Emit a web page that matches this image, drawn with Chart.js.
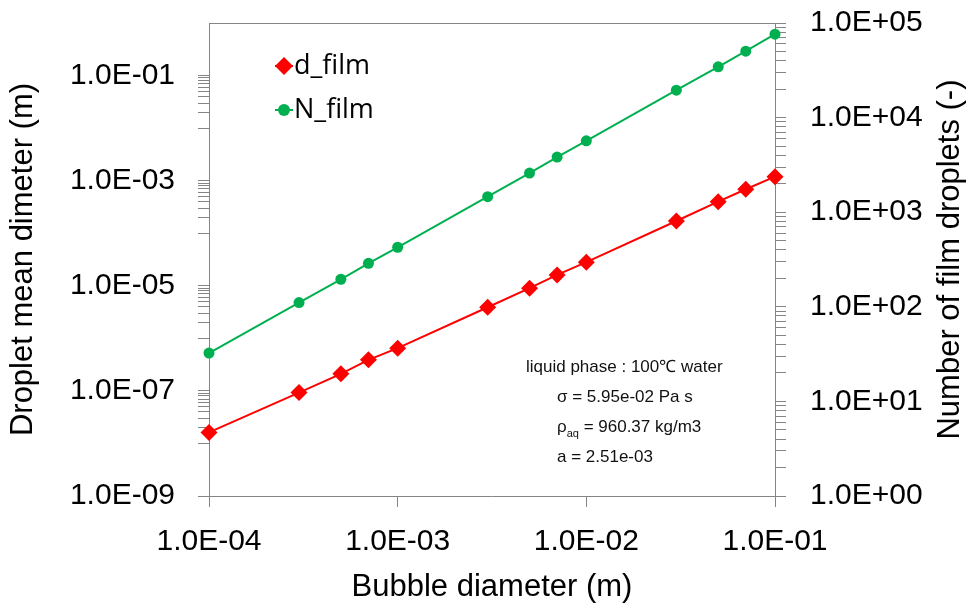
<!DOCTYPE html>
<html>
<head>
<meta charset="utf-8">
<script src="https://cdn.jsdelivr.net/npm/chart.js@4.4.1/dist/chart.umd.min.js"></script>
<style>
  body { margin: 0; background: #fff; }
  canvas { display: block; }
</style>
</head>
<body>
<canvas id="dropletChart" width="974" height="609"></canvas>
<script>
// data
const bubbleDiameter = [1e-4, 3e-4, 5e-4, 7e-4, 1e-3, 3e-3, 5e-3, 7e-3, 1e-2, 3e-2, 5e-2, 7e-2, 1e-1];
const dFilm = [1.62e-8, 9.3e-8, 2.11e-7, 3.9e-7, 6.5e-7, 3.9e-6, 9.0e-6, 1.61e-5, 2.81e-5, 1.71e-4, 3.99e-4, 6.87e-4, 1.19e-3];
const nFilm = [32.4, 110.7, 195.5, 288, 426, 1458, 2594, 3828, 5689, 19500, 34400, 50350, 76200];

// tick labels (only these get text, the rest are minor marks)
const xTickValues = [1e-4, 1e-3, 1e-2, 1e-1];
const leftTickValues = [1e-9, 1e-7, 1e-5, 1e-3, 1e-1];
const rightTickValues = [1, 10, 100, 1e3, 1e4, 1e5];

const FONT = "'Liberation Sans', Arial, sans-serif";
const AXIS_GRAY = "#858585";

function sci(v) {
  const e = Math.round(Math.log10(v));
  const m = v / Math.pow(10, e);
  return m.toFixed(1) + "E" + (e < 0 ? "-" : "+") + String(Math.abs(e)).padStart(2, "0");
}

// left axis: one label every two decades, minor marks at 1..9 x 10^odd
const leftMinor = [];
[-8, -6, -4, -2].forEach((e) => {
  for (let k = 1; k <= 9; k++) leftMinor.push(Number(k + "e" + e));
});
// right axis: normal decade minor marks
const rightMinor = [];
[0, 1, 2, 3, 4].forEach((e) => {
  for (let k = 2; k <= 9; k++) rightMinor.push(Number(k + "e" + e));
});

const tickGrid = {
  display: true,
  drawOnChartArea: false,
  drawTicks: true,
  tickLength: 11,
  color: AXIS_GRAY,
  lineWidth: 1,
};
const axisBorder = { display: true, color: AXIS_GRAY, width: 1 };

// keep tick labels from pushing the plot area around
function noPad(scale) {
  scale.paddingTop = 0;
  scale.paddingBottom = 0;
  scale.paddingLeft = 0;
  scale.paddingRight = 0;
}

const decor = {
  id: "decor",
  afterDraw(chart) {
    const { ctx, chartArea } = chart;
    const { left, right, top, bottom } = chartArea;
    ctx.save();

    // top frame line
    ctx.strokeStyle = AXIS_GRAY;
    ctx.lineWidth = 1;
    ctx.beginPath();
    ctx.moveTo(left, top + 0.5);
    ctx.lineTo(right, top + 0.5);
    ctx.stroke();

    // legend
    const ds = chart.data.datasets;
    const rows = [66, 110];
    ds.forEach((d, i) => {
      const cy = rows[i];
      const cx = 284;
      ctx.strokeStyle = d.borderColor;
      ctx.lineWidth = 2;
      ctx.beginPath();
      ctx.moveTo(cx - 9, cy);
      ctx.lineTo(cx + 9, cy);
      ctx.stroke();
      ctx.fillStyle = d.backgroundColor;
      ctx.beginPath();
      if (d.pointStyle === "rectRot") {
        const r = 9;
        ctx.moveTo(cx, cy - r);
        ctx.lineTo(cx + r, cy);
        ctx.lineTo(cx, cy + r);
        ctx.lineTo(cx - r, cy);
        ctx.closePath();
      } else {
        ctx.arc(cx, cy, 6, 0, Math.PI * 2);
      }
      ctx.fill();
      ctx.fillStyle = "#000";
      ctx.font = "27px 'Open Sans', sans-serif";
      ctx.textAlign = "left";
      ctx.textBaseline = "middle";
      ctx.fillText(d.label, 294, cy);
    });

    // property notes
    ctx.fillStyle = "#111";
    ctx.textBaseline = "alphabetic";
    ctx.textAlign = "left";
    ctx.font = "17px " + FONT;
    ctx.fillText("liquid phase : 100℃ water", 526, 372);
    ctx.fillText("σ = 5.95e-02 Pa s", 557, 402);
    ctx.fillText("ρ", 557, 432);
    let x = 557 + ctx.measureText("ρ").width;
    ctx.font = "11px " + FONT;
    ctx.fillText("aq", x, 437);
    x += ctx.measureText("aq").width;
    ctx.font = "17px " + FONT;
    ctx.fillText(" = 960.37 kg/m3", x, 432);
    ctx.fillText("a = 2.51e-03", 557, 462);

    // right axis title, reading upwards
    ctx.translate(950, (top + bottom) / 2);
    ctx.rotate(-Math.PI / 2);
    ctx.font = "31px " + FONT;
    ctx.textAlign = "center";
    ctx.textBaseline = "middle";
    ctx.fillStyle = "#000";
    ctx.fillText("Number of film droplets (-)", 0, 0);
    ctx.restore();
  },
};

const data = {
  datasets: [
    {
      label: "d_film",
      data: bubbleDiameter.map((x, i) => ({ x: x, y: dFilm[i] })),
      yAxisID: "y",
      borderColor: "#FF0000",
      backgroundColor: "#FF0000",
      borderWidth: 2,
      pointStyle: "rectRot",
      pointRadius: 8.5,
      pointBorderWidth: 0,
      pointHoverRadius: 8.5,
      clip: false,
    },
    {
      label: "N_film",
      data: bubbleDiameter.map((x, i) => ({ x: x, y: nFilm[i] })),
      yAxisID: "y1",
      borderColor: "#00B050",
      backgroundColor: "#00B050",
      borderWidth: 2,
      pointStyle: "circle",
      pointRadius: 5.5,
      pointBorderWidth: 0,
      clip: false,
    },
  ],
};

const config = {
  type: "line",
  data,
  plugins: [decor],
  options: {
    responsive: false,
    animation: false,
    devicePixelRatio: 1,
    layout: { padding: { top: 23, left: 0, right: 0, bottom: 0 } },
    plugins: {
      legend: { display: false },
      tooltip: { enabled: false },
    },
    scales: {
      x: {
        type: "logarithmic",
        position: "bottom",
        min: 1e-4,
        max: 1e-1,
        afterBuildTicks: (scale) => {
          scale.ticks = xTickValues.map((v) => ({ value: v }));
        },
        afterFit: (scale) => {
          scale.height = 113;
          noPad(scale);
        },
        grid: tickGrid,
        border: axisBorder,
        ticks: {
          autoSkip: false,
          maxRotation: 0,
          padding: 17,
          color: "#000",
          font: { family: FONT, size: 30 },
          callback: (v) => sci(v),
        },
        title: {
          display: true,
          text: "Bubble diameter (m)",
          color: "#000",
          font: { family: FONT, size: 31 },
          padding: { top: 0, bottom: 3 },
        },
      },
      y: {
        type: "logarithmic",
        position: "left",
        min: 1e-9,
        max: 1,
        afterBuildTicks: (scale) => {
          scale.ticks = leftTickValues.concat(leftMinor).sort((a, b) => a - b).map((v) => ({ value: v }));
        },
        afterFit: (scale) => {
          scale.width = 209;
          noPad(scale);
        },
        grid: tickGrid,
        border: axisBorder,
        ticks: {
          autoSkip: false,
          padding: 23,
          color: "#000",
          font: { family: FONT, size: 30 },
          callback: (v) => (leftTickValues.includes(v) ? sci(v) : ""),
        },
        title: {
          display: true,
          text: "Droplet mean dimeter (m)",
          color: "#000",
          font: { family: FONT, size: 31 },
          padding: { top: 5, bottom: 0 },
        },
      },
      y1: {
        type: "logarithmic",
        position: "right",
        min: 1,
        max: 1e5,
        afterBuildTicks: (scale) => {
          scale.ticks = rightTickValues.concat(rightMinor).sort((a, b) => a - b).map((v) => ({ value: v }));
        },
        afterFit: (scale) => {
          scale.width = 199;
          noPad(scale);
        },
        grid: tickGrid,
        border: axisBorder,
        ticks: {
          autoSkip: false,
          padding: 24,
          color: "#000",
          font: { family: FONT, size: 30 },
          callback: (v) => (rightTickValues.includes(v) ? sci(v) : ""),
        },
      },
    },
  },
};

const dropletChart = new Chart(document.getElementById("dropletChart"), config);
</script>
</body>
</html>
